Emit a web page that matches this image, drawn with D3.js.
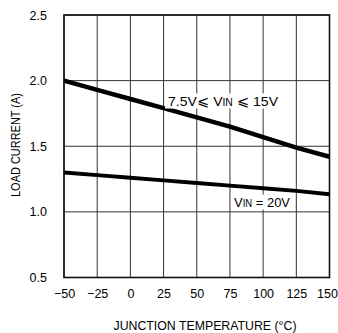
<!DOCTYPE html>
<html><head><meta charset="utf-8">
<script src="https://cdn.jsdelivr.net/npm/d3@7"></script>
<style>
html,body{margin:0;padding:0;background:#fff;}
svg{display:block;}
text{font-family:"Liberation Sans",Arial,sans-serif;fill:#000;}
</style></head><body>
<script>
const temps = [-50, -25, 0, 25, 50, 75, 100, 125, 150];
const currentLow = [2.00, 1.93, 1.86, 1.79, 1.72, 1.65, 1.57, 1.49, 1.42];   // 7.5V <= VIN <= 15V
const current20V = [1.30, 1.28, 1.26, 1.24, 1.22, 1.20, 1.18, 1.16, 1.135]; // VIN = 20V
const xTicks = [-50, -25, 0, 25, 50, 75, 100, 125, 150];
const xTickLabels = ["\u221250", "\u221225", "0", "25", "50", "75", "100", "125", "150"];
const yTicks = [0.5, 1.0, 1.5, 2.0, 2.5];
const yTickLabels = ["0.5", "1.0", "1.5", "2.0", "2.5"];

const W = 338, H = 333;
const m = {left: 64, right: 8.5, top: 15, bottom: 55.5};
const svg = d3.select("body").append("svg").attr("width", W).attr("height", H);
const x = d3.scaleLinear().domain([-50, 150]).range([m.left, W - m.right]);
const y = d3.scaleLinear().domain([0.5, 2.5]).range([H - m.bottom, m.top]);

// grid
const g = svg.append("g");
g.selectAll("line.v").data(xTicks).join("line")
  .attr("x1", d => x(d)).attr("x2", d => x(d)).attr("y1", y(0.5)).attr("y2", y(2.5))
  .attr("stroke", "#333").attr("stroke-width", 1);
g.selectAll("line.h").data(yTicks).join("line")
  .attr("x1", x(-50)).attr("x2", x(150)).attr("y1", d => y(d)).attr("y2", d => y(d))
  .attr("stroke", "#333").attr("stroke-width", 1);
// frame
svg.append("rect").attr("x", x(-50)).attr("y", y(2.5)).attr("width", x(150) - x(-50)).attr("height", y(0.5) - y(2.5))
  .attr("fill", "none").attr("stroke", "#111").attr("stroke-width", 1.6);

// axes (labels only)
const xAxis = svg.append("g").attr("transform", `translate(0,${y(0.5)})`)
  .call(d3.axisBottom(x).tickValues(xTicks).tickFormat((d, i) => xTickLabels[i]).tickSize(0).tickPadding(12));
xAxis.select(".domain").remove();
xAxis.selectAll("text").attr("font-size", 12.5).attr("font-family", "Liberation Sans, Arial, sans-serif").attr("fill", "#000")
  .attr("dx", (d, i) => i === xTicks.length - 1 ? -2.5 : 0);
const yAxis = svg.append("g").attr("transform", `translate(${x(-50)},0)`)
  .call(d3.axisLeft(y).tickValues(yTicks).tickFormat((d, i) => yTickLabels[i]).tickSize(0).tickPadding(17));
yAxis.select(".domain").remove();
yAxis.selectAll("text").attr("font-size", 12.5).attr("font-family", "Liberation Sans, Arial, sans-serif").attr("fill", "#000");

// curves
const line = d3.line().x(d => x(d[0])).y(d => y(d[1]));
svg.append("path").datum(temps.map((t, i) => [t, currentLow[i]]))
  .attr("d", line).attr("fill", "none").attr("stroke", "#000").attr("stroke-width", 4.5);
svg.append("path").datum(temps.map((t, i) => [t, current20V[i]]))
  .attr("d", line).attr("fill", "none").attr("stroke", "#000").attr("stroke-width", 4);

// curve labels with white background
function label(px, py, len, build) {
  const t = svg.append("text").attr("x", px).attr("y", py).attr("font-size", 13.5);
  build(t);
  t.attr("textLength", len).attr("lengthAdjust", "spacingAndGlyphs");
  const b = t.node().getBBox();
  svg.insert("rect", () => t.node()).attr("x", b.x - 3).attr("y", b.y).attr("width", b.width + 6).attr("height", b.height)
    .attr("fill", "#fff");
}
label(168, 105.5, 110, t => {
  t.append("tspan").text("7.5V\u2A7D V");
  t.append("tspan").attr("font-size", 10).text("IN");
  t.append("tspan").text(" \u2A7D 15V");
});
label(234, 206.5, 56, t => {
  t.append("tspan").text("V");
  t.append("tspan").attr("font-size", 10).text("IN");
  t.append("tspan").text(" = 20V");
});

// axis titles
svg.append("text").attr("transform", `translate(20,${145}) rotate(-90)`).attr("text-anchor", "middle")
  .attr("font-size", 13).attr("textLength", 104).attr("lengthAdjust", "spacingAndGlyphs").text("LOAD CURRENT (A)");
svg.append("text").attr("x", 205).attr("y", 329.5).attr("text-anchor", "middle")
  .attr("font-size", 13.5).attr("textLength", 183).attr("lengthAdjust", "spacingAndGlyphs").text("JUNCTION TEMPERATURE (\u00B0C)");
</script>
</body></html>
